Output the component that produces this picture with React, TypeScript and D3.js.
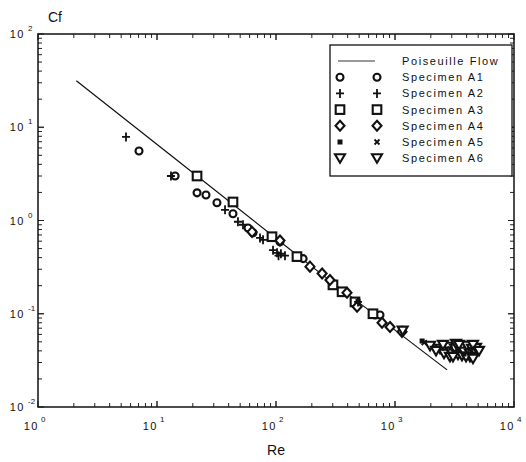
import React from "react";
import * as d3 from "d3";

// Poiseuille flow reference line
const lineRe = [2.1, 21.7, 200, 2740];
const lineCf = [31.5, 3.0, 0.32, 0.025];

// Specimen A1 (circles)
const a1Re = [7.06, 14.2, 21.7, 25.8, 31.9, 43.5, 58.2, 64.1, 108, 169, 679, 748];
const a1Cf = [5.57, 3.0, 1.98, 1.88, 1.55, 1.18, 0.83, 0.74, 0.59, 0.39, 0.097, 0.097];

// Specimen A2 (plus)
const a2Re = [5.49, 13.1, 37.3, 47.9, 52.8, 73.4, 77.8, 94.4, 102, 110, 119, 105, 489];
const a2Cf = [7.87, 3.0, 1.3, 0.97, 0.9, 0.65, 0.62, 0.48, 0.45, 0.44, 0.42, 0.42, 0.134];

// Specimen A3 (squares)
const a3Re = [21.7, 43.5, 92.5, 150, 301, 359, 461, 653];
const a3Cf = [3.0, 1.58, 0.67, 0.41, 0.204, 0.172, 0.134, 0.1];

// Specimen A4 (diamonds)
const a4Re = [62.9, 108, 193, 244, 284, 395, 480, 778, 908, 1145];
const a4Cf = [0.755, 0.61, 0.32, 0.27, 0.23, 0.168, 0.119, 0.08, 0.072, 0.064];

// Specimen A5 (small filled squares / crosses)
const a5Re = [1690, 1760, 3383, 4266, 489, 2900, 3800];
const a5Cf = [0.051, 0.049, 0.04, 0.041, 0.136, 0.042, 0.037];

// Specimen A6 (down triangles)
const a6Re = [1160, 1970, 2389, 2582, 2787, 2956, 3193, 3258, 3383, 3587, 3656, 3800, 4027, 4266, 4436, 4699, 4796, 2897, 4266,
  2212, 2531, 3070, 3451, 3952, 4522, 5082, 4522];
const a6Cf = [0.066, 0.0453, 0.0421, 0.0372, 0.0442, 0.0391, 0.0421, 0.0475, 0.0363, 0.0431, 0.0354, 0.0391, 0.0453, 0.0372, 0.0421, 0.0391, 0.0431, 0.0345, 0.0345,
  0.040, 0.0464, 0.0345, 0.0464, 0.0345, 0.0464, 0.040, 0.0329];

const xTickExp = [0, 1, 2, 3, 4];
const yTickExp = [2, 1, 0, -1, -2];

const legendLabels = [
  "Poiseuille Flow",
  "Specimen A1",
  "Specimen A2",
  "Specimen A3",
  "Specimen A4",
  "Specimen A5",
  "Specimen A6",
];

const FONT = "'Liberation Sans', Arial, Helvetica, sans-serif";

function Marker({ kind, x, y }: { kind: string; x: number; y: number }) {
  const sw = 2.1;
  switch (kind) {
    case "circle":
      return <circle cx={x} cy={y} r={3.5} fill="white" stroke="#111" strokeWidth={sw} />;
    case "plus":
      return (
        <path d={`M${x - 4},${y}H${x + 4}M${x},${y - 4.5}V${y + 4.5}`} stroke="#111" strokeWidth={1.8} fill="none" />
      );
    case "square":
      return <rect x={x - 4.3} y={y - 4.3} width={8.6} height={8.6} fill="white" stroke="#111" strokeWidth={sw} />;
    case "diamond":
      return (
        <path d={`M${x},${y - 5}L${x + 4.5},${y}L${x},${y + 5}L${x - 4.5},${y}Z`} fill="white" stroke="#111" strokeWidth={sw} />
      );
    case "fsquare":
      return <rect x={x - 2.5} y={y - 2.5} width={5} height={5} fill="#111" />;
    case "xsmall":
      return <path d={`M${x - 2.5},${y - 2.5}L${x + 2.5},${y + 2.5}M${x + 2.5},${y - 2.5}L${x - 2.5},${y + 2.5}`} stroke="#111" strokeWidth={1.8} />;
    case "tri":
      return (
        <path d={`M${x - 5},${y - 4}L${x + 5},${y - 4}L${x},${y + 4.5}Z`} fill="white" stroke="#111" strokeWidth={sw} />
      );
    default:
      return null;
  }
}

export default function App() {
  const W = 526, H = 462;
  const L = 38, R = 514, T = 34, B = 407;
  const x = d3.scaleLog().domain([1, 1e4]).range([L, R]);
  const y = d3.scaleLog().domain([1e-2, 1e2]).range([B, T]);

  const line = d3
    .line<number>()
    .x((_, i) => x(lineRe[i]))
    .y((d) => y(d));

  const xMinor: number[] = [];
  for (let e = 0; e < 4; e++) for (let k = 1; k <= 10; k++) xMinor.push(k * Math.pow(10, e));
  const yMinor: number[] = [];
  for (let e = -2; e < 2; e++) for (let k = 1; k <= 10; k++) yMinor.push(k * Math.pow(10, e));

  const series: { kind: string; re: number[]; cf: number[] }[] = [
    { kind: "circle", re: a1Re, cf: a1Cf },
    { kind: "square", re: a3Re, cf: a3Cf },
    { kind: "diamond", re: a4Re, cf: a4Cf },
    { kind: "tri", re: a6Re, cf: a6Cf },
    { kind: "plus", re: a2Re, cf: a2Cf },
  ];

  const legendKinds = ["circle", "plus", "square", "diamond", "fsquare", "tri"];
  const legendKinds2 = ["circle", "plus", "square", "diamond", "xsmall", "tri"];
  const lgX = 330, lgY = 45, lgW = 182, lgH = 131;
  const rowY = (i: number) => 64 + i * 16.2;

  return (
    <svg width={W} height={H} style={{ position: "absolute", left: 0, top: 0, background: "white" }} fontFamily={FONT}>
      <rect width={W} height={H} fill="white" />
      {xMinor.map((v, i) => {
        const major = Math.abs(Math.log10(v) - Math.round(Math.log10(v))) < 1e-9;
        const len = major ? 6 : 4;
        return (
          <g key={"xt" + i} stroke="#222" strokeWidth={1}>
            <line x1={x(v)} x2={x(v)} y1={B} y2={B - len} />
            <line x1={x(v)} x2={x(v)} y1={T} y2={T + len} />
          </g>
        );
      })}
      {yMinor.map((v, i) => {
        const major = Math.abs(Math.log10(v) - Math.round(Math.log10(v))) < 1e-9;
        const len = major ? 6 : 4;
        return (
          <g key={"yt" + i} stroke="#222" strokeWidth={1}>
            <line x1={L} x2={L + len} y1={y(v)} y2={y(v)} />
            <line x1={R} x2={R - len} y1={y(v)} y2={y(v)} />
          </g>
        );
      })}
      <rect x={L} y={T} width={R - L} height={B - T} fill="none" stroke="#111" strokeWidth={1.5} />

      {xTickExp.map((e) => (
        <g key={"xl" + e} fill="#111">
          <text x={x(Math.pow(10, e)) + 1} y={430} fontSize={11} textAnchor="end" letterSpacing={1.5}>10</text>
          <text x={x(Math.pow(10, e)) + 3} y={422} fontSize={8}>{e}</text>
        </g>
      ))}
      {yTickExp.map((e) => (
        <g key={"yl" + e} fill="#111">
          <text x={25} y={y(Math.pow(10, e)) + 4} fontSize={11} textAnchor="end" letterSpacing={1.5}>10</text>
          <text x={28} y={y(Math.pow(10, e)) - 3} fontSize={8}>{e}</text>
        </g>
      ))}

      <text x={48} y={22} fontSize={14} fill="#111">Cf</text>
      <text x={276} y={455} fontSize={14} textAnchor="middle" fill="#111">Re</text>

      <path d={line(lineCf) || ""} fill="none" stroke="#111" strokeWidth={1.2} />

      {series.map((s) =>
        s.re.map((re, i) => <Marker key={s.kind + i} kind={s.kind} x={x(re)} y={y(s.cf[i])} />)
      )}
      {a5Re.map((re, i) => (
        <Marker key={"a5" + i} kind={i % 2 === 0 ? "fsquare" : "xsmall"} x={x(re)} y={y(a5Cf[i])} />
      ))}

      <rect x={lgX} y={lgY} width={lgW} height={lgH} fill="white" stroke="#111" strokeWidth={1.3} />
      <line x1={338} x2={375} y1={rowY(0) - 3} y2={rowY(0) - 3} stroke="#333" strokeWidth={1} />
      {legendLabels.map((t, i) => (
        <text key={"lg" + i} x={402} y={rowY(i) + 1} fontSize={11} letterSpacing={1.6} fill="#111">{t}</text>
      ))}
      {legendKinds.map((k, i) => (
        <g key={"lk" + i}>
          <Marker kind={k} x={340} y={rowY(i + 1) - 3} />
          <Marker kind={legendKinds2[i]} x={377} y={rowY(i + 1) - 3} />
        </g>
      ))}
    </svg>
  );
}
